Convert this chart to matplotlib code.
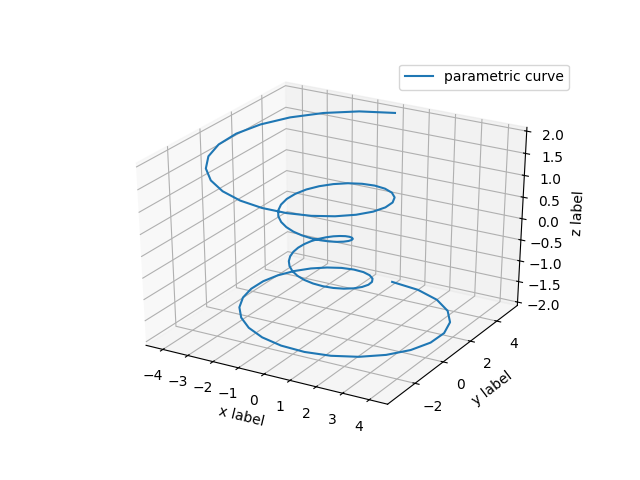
import matplotlib
matplotlib.use("Agg")
import matplotlib.pyplot as plt

series_label = "parametric curve"
x_title = "x label"
y_title = "y label"
z_title = "z label"

x_values = [
    0.0, 1.215, 2.277, 3.126, 3.722, 4.042, 4.084, 3.865, 3.415, 2.780,
    2.011, 1.170, 0.313, -0.502, -1.226, -1.819, -2.254, -2.513, -2.593, -2.503,
    -2.261, -1.895, -1.437, -0.922, -0.390, 0.126, 0.593, 0.987, 1.289, 1.486,
    1.575, 1.559, 1.446, 1.251, 0.992, 0.690, 0.366, 0.040, -0.268, -0.541,
    -0.765, -0.931, -1.032, -1.066, -1.033, -0.940, -0.792, -0.599, -0.373, -0.127,
    0.127, 0.373, 0.599, 0.792, 0.940, 1.033, 1.066, 1.032, 0.931, 0.765,
    0.541, 0.268, -0.040, -0.366, -0.690, -0.992, -1.251, -1.446, -1.559, -1.575,
    -1.486, -1.289, -0.987, -0.593, -0.126, 0.390, 0.922, 1.437, 1.895, 2.261,
    2.503, 2.593, 2.513, 2.254, 1.819, 1.226, 0.502, -0.313, -1.170, -2.011,
    -2.780, -3.415, -3.865, -4.084, -4.042, -3.722, -3.126, -2.277, -1.215, 0.0,
]
y_values = [
    5.0, 4.685, 4.092, 3.278, 2.309, 1.257, 0.195, -0.809, -1.693, -2.409,
    -2.922, -3.214, -3.281, -3.135, -2.801, -2.313, -1.715, -1.052, -0.373, 0.279,
    0.864, 1.349, 1.712, 1.938, 2.025, 1.976, 1.807, 1.536, 1.191, 0.796,
    0.382, -0.025, -0.400, -0.722, -0.977, -1.152, -1.245, -1.254, -1.186, -1.049,
    -0.855, -0.619, -0.357, -0.085, 0.182, 0.429, 0.643, 0.813, 0.932, 0.992,
    0.992, 0.932, 0.813, 0.643, 0.429, 0.182, -0.085, -0.357, -0.619, -0.855,
    -1.049, -1.186, -1.254, -1.245, -1.152, -0.977, -0.722, -0.400, -0.025, 0.382,
    0.796, 1.191, 1.536, 1.807, 1.976, 2.025, 1.938, 1.712, 1.349, 0.864,
    0.279, -0.373, -1.052, -1.715, -2.313, -2.801, -3.135, -3.281, -3.214, -2.922,
    -2.409, -1.693, -0.809, 0.195, 1.257, 2.309, 3.278, 4.092, 4.685, 5.0,
]
z_values = [
    -2.0, -1.960, -1.919, -1.879, -1.838, -1.798, -1.758, -1.717, -1.677, -1.636,
    -1.596, -1.556, -1.515, -1.475, -1.434, -1.394, -1.354, -1.313, -1.273, -1.232,
    -1.192, -1.152, -1.111, -1.071, -1.030, -0.990, -0.949, -0.909, -0.869, -0.828,
    -0.788, -0.747, -0.707, -0.667, -0.626, -0.586, -0.545, -0.505, -0.465, -0.424,
    -0.384, -0.343, -0.303, -0.263, -0.222, -0.182, -0.141, -0.101, -0.061, -0.020,
    0.020, 0.061, 0.101, 0.141, 0.182, 0.222, 0.263, 0.303, 0.343, 0.384,
    0.424, 0.465, 0.505, 0.545, 0.586, 0.626, 0.667, 0.707, 0.747, 0.788,
    0.828, 0.869, 0.909, 0.949, 0.990, 1.030, 1.071, 1.111, 1.152, 1.192,
    1.232, 1.273, 1.313, 1.354, 1.394, 1.434, 1.475, 1.515, 1.556, 1.596,
    1.636, 1.677, 1.717, 1.758, 1.798, 1.838, 1.879, 1.919, 1.960, 2.0,
]

fig = plt.figure(figsize=(6.4, 4.8), dpi=100)
ax = fig.add_subplot(projection="3d")
# Older 3D look: the cube is stretched to fill the whole subplot box.
ax.apply_aspect = lambda position=None: None
ax.set_box_aspect((1, 1, 1), zoom=0.945)
ax.plot(x_values, y_values, z_values, label=series_label)
ax.set_xlabel(x_title)
ax.set_ylabel(y_title)
ax.set_zlabel(z_title)
ax.legend()
fig.savefig("out.png", dpi=100)
